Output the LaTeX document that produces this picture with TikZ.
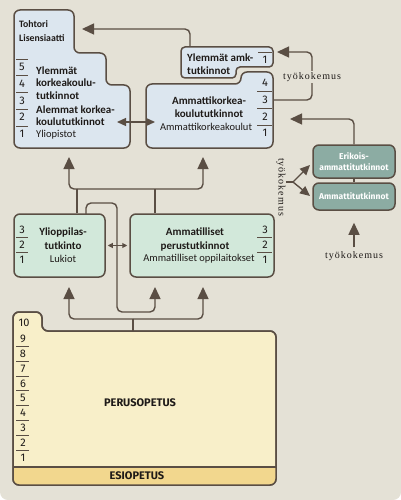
\documentclass[tikz,border=0pt]{standalone}
\usepackage{fontspec}
\setsansfont{Fira Sans}
\newfontfamily\condfont{Carlito}
\newfontfamily\tkfont[LetterSpace=10]{Liberation Serif}
\usetikzlibrary{arrows.meta, positioning, calc}

\definecolor{bgc}{HTML}{E4E1D6}
\definecolor{ink}{HTML}{5A4E44}
\definecolor{txt}{HTML}{1E1A18}
\definecolor{unic}{HTML}{DCE6EF}
\definecolor{mintc}{HTML}{D2E8DA}
\definecolor{tealc}{HTML}{8CACA3}
\definecolor{creamc}{HTML}{F8EFC9}
\definecolor{esioc}{HTML}{F2D78E}

\tikzset{
  box/.style={draw=ink, line width=1.5pt, rounded corners=6pt},
  smallbox/.style={draw=ink, line width=1.5pt, rounded corners=4pt},
  lbl/.style={font=\condfont\bfseries\fontsize{11}{12.5}\selectfont, text=txt, inner sep=0pt},
  toplbl/.style={font=\condfont\bfseries\fontsize{9.8}{12}\selectfont, text=txt, inner sep=0pt},
  inst/.style={font=\condfont\fontsize{10.5}{12}\selectfont, text=txt, inner sep=0pt},
  num/.style={font=\sffamily\fontsize{11}{11}\selectfont, text=txt, inner sep=0pt},
  caps/.style={font=\sffamily\bfseries\fontsize{11}{12}\selectfont, text=txt, inner sep=0pt},
  tealbox/.style={draw=ink, line width=1.5pt, rounded corners=6pt, fill=tealc, text=white,
    font=\sffamily\bfseries\fontsize{8.5}{10.5}\selectfont, align=center, minimum width=82pt},
  tk/.style={font=\tkfont\fontsize{10}{12}\selectfont, text=txt, inner sep=0pt},
  numline/.style={draw=ink, line width=0.8pt},
  conn/.style={draw=ink, line width=1.4pt, rounded corners=5pt},
  arr/.style={conn, -{Triangle[length=12pt,width=11pt]}},
  forkarr/.style={conn, -{Triangle[length=10pt,width=9pt]}},
  dblarr/.style={draw=ink, line width=1.2pt, {Triangle[length=9pt,width=8pt]}-{Triangle[length=9pt,width=8pt]}},
  dblsmall/.style={draw=ink, line width=1pt, {Triangle[length=5pt,width=5pt]}-{Triangle[length=5pt,width=5pt]}}
}

\begin{document}
\begin{tikzpicture}[x=1pt, y=-1pt]
\useasboundingbox (0,0) rectangle (401,500);
\fill[bgc] (0,0) -- (401,0) [rounded corners=8pt] -- (401,500) -- (0,500) [sharp corners] -- cycle;

% Yliopistot
\draw[box, fill=unic] (14,10) -- (74,10) -- (74,53) -- (106,53) -- (106,85) -- (130,85)
  -- (130,148) -- (14,148) -- cycle;
\node[toplbl, anchor=west] (toh) at (19,24) {Tohtori};
\node[toplbl, anchor=west] (lis) at (19,38) {Lisensiaatti};
\node[lbl, anchor=west, align=left] (ylk) at (36,83) {Ylemmät\\korkeakoulu-\\tutkinnot};
\node[lbl, anchor=west, align=left] (alk) at (36,115.5) {Alemmat korkea-\\koulututkinnot};
\node[inst, anchor=west] (yliop) at (36,135) {Yliopistot};
\foreach \n [count=\i from 0] in {5,4,3,2,1} {
  \node[num] (u\n) at (22,67+16.75*\i) {\n};
  \draw[numline] (16,59+16.75*\i) -- (28,59+16.75*\i);
}

% Ylemmat amk-tutkinnot
\draw[smallbox, fill=unic] (181,47) -- (273,47) -- (273,67) -- (236,67) -- (236,78)
  -- (181,78) -- cycle;
\node[lbl, anchor=west, align=left] (yamkt) at (187,64) {Ylemmät amk-\\tutkinnot};
\node[num] (ya1) at (265,60) {1};
\draw[numline] (258,52) -- (272,52);

% Ammattikorkeakoulut
\draw[box, fill=unic] (241,72) -- (273,72) -- (273,148) -- (146,148) -- (146,84)
  -- (241,84) -- cycle;
\node[lbl, align=center] (amkt) at (209,107) {Ammattikorkea-\\koulututkinnot};
\node[inst] (amki) at (206,127) {Ammattikorkeakoulut};
\foreach \n [count=\i from 0] in {4,3,2,1} {
  \node[num] (a\n) at (265,83+16.75*\i) {\n};
}
\foreach \i in {1,2,3} {
  \draw[numline] (257,75+16.75*\i) -- (272,75+16.75*\i);
}

% Lukiot ja ammatilliset oppilaitokset
\node[box, fill=mintc, minimum width=91pt, minimum height=63pt] (yo) at (59.5,245.5) {};
\node[box, fill=mintc, minimum width=144pt, minimum height=63pt] (amm) at (202,245.5) {};
\node[lbl, align=center] (yot) at (63,239) {Ylioppilas-\\[1.5pt]tutkinto};
\node[inst] (luk) at (63,259) {Lukiot};
\node[lbl, align=center] (ammt) at (195,239) {Ammatilliset\\[1.5pt]perustutkinnot};
\node[inst] (ammi) at (199,259) {Ammatilliset oppilaitokset};
\foreach \n [count=\i from 0] in {3,2,1} {
  \node[num] (yo\n) at (22,230+15*\i) {\n};
  \node[num] (am\n) at (265,230+15*\i) {\n};
}
\foreach \y in {237.5,252.5} {
  \draw[numline] (16,\y) -- (28,\y);
  \draw[numline] (257,\y) -- (272,\y);
}

% Ammattitutkinnot
\node[tealbox, minimum height=33pt] (erik) at (354,161.5) {Erikois-\\ammattitutkinnot};
\node[tealbox, minimum height=27pt] (amt) at (354,196.5) {Ammattitutkinnot};
\draw[conn] (erik) -- (amt);

% Perusopetus ja esiopetus
\draw[box, fill=creamc] (13,312) -- (42,312) -- (42,331) -- (276,331) -- (276,485)
  -- (13,485) -- cycle;
\begin{scope}
  \clip[rounded corners=6pt] (13,312) -- (42,312) -- (42,331) -- (276,331) -- (276,485)
    -- (13,485) -- cycle;
  \fill[esioc] (0,467) rectangle (401,500);
\end{scope}
\draw[box] (13,312) -- (42,312) -- (42,331) -- (276,331) -- (276,485) -- (13,485) -- cycle;
\draw[draw=ink, line width=1.5pt] (13,467) -- (276,467);
\node[caps] (perus) at (140,403) {PERUSOPETUS};
\node[caps] (esio) at (137,476) {ESIOPETUS};
\node[num] (p10) at (24,323) {10};
\foreach \n [count=\i from 0] in {9,...,1} {
  \node[num] (p\n) at (23,339+14.8*\i) {\n};
}
\foreach \i in {1,...,8} {
  \draw[numline] (16,331.6+14.8*\i) -- (29,331.6+14.8*\i);
}

% yhteydet
\coordinate (yamkTop) at (190,47);
\coordinate (tohIn) at (82,29);
\draw[arr] (yamkTop) |- (tohIn);

\draw[dblarr] (117,122) -- (155,122);
\draw[dblsmall] ([xshift=2pt]yo.east) -- ([xshift=-2pt]amm.west);

\coordinate (amk3) at (273,100);
\coordinate (ya1In) at (277,52);
\draw[arr] (amk3) -| (312,76) |- (ya1In);
\node[tk, fill=bgc, inner sep=1pt] (tk1) at (312,77) {työkokemus};

\coordinate (amkR) at (290,119);
\draw[arr] (erik.north) |- (amkR);

\node[tk] (tk3) at (354,256) {työkokemus};
\draw[arr, shorten >=12pt] ([yshift=4pt]tk3.north) -- (amt.south);

\node[tk, rotate=-90] (tk2) at (281,187) {työkokemus};
\coordinate (fork) at (293,182);
\draw[conn] (tk2.north |- fork) -- (fork);
\draw[forkarr] (fork) -- (310,165);
\draw[forkarr] (fork) -- (310,196);

\coordinate (uniB) at (69,157);
\coordinate (amkB) at (203,157);
\coordinate (jL) at (77,189);
\coordinate (jR) at (155,189);
\draw[conn] (yo.north -| jL) -- (jL);
\draw[conn] (amm.north -| jR) -- (jR);
\draw[arr] (jL) -| (uniB);
\draw[arr] (jL) -| (amkB);

\coordinate (lpTop) at (117,203);
\coordinate (lpBot) at (117,312);
\coordinate (ammB1) at (155,287);
\draw[arr] (86,214) |- (lpTop) -- (lpBot) -| (ammB1);

\coordinate (pTop) at (133,331);
\coordinate (jB) at (133,319);
\coordinate (yoB) at (69,287);
\coordinate (ammB2) at (203,287);
\draw[conn] (pTop) -- (jB);
\draw[arr] (jB) -| (yoB);
\draw[arr] (jB) -| (ammB2);
\end{tikzpicture}
\end{document}
